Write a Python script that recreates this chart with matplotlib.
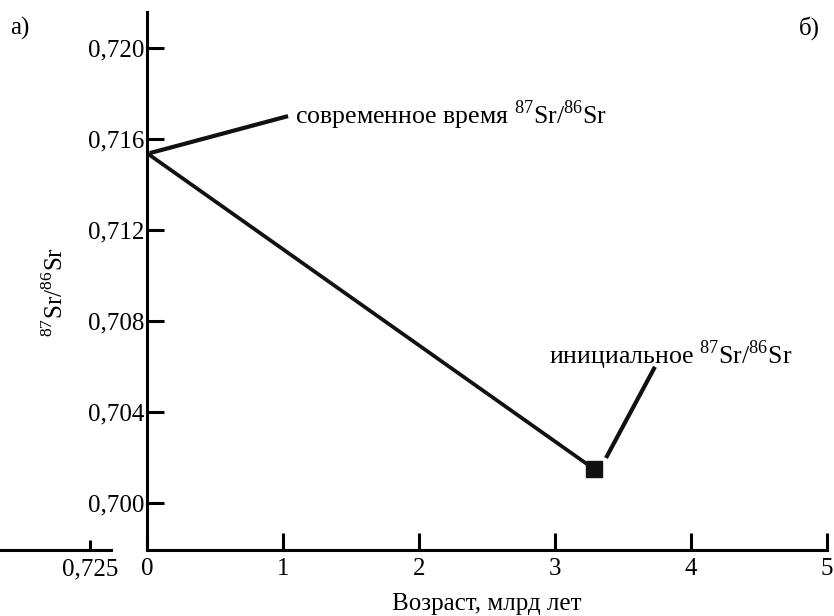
import matplotlib
matplotlib.use("Agg")
import matplotlib.pyplot as plt

plt.rcParams["font.family"] = ["Liberation Serif", "DejaVu Serif"]
plt.rcParams["mathtext.fontset"] = "custom"
plt.rcParams["mathtext.rm"] = "Liberation Serif"

# evolution line: present-day value -> initial value
age = [0.0, 3.29]
ratio = [0.71539, 0.70148]

# leader lines for the two notes
lead_now_x = [0.02, 1.037]
lead_now_y = [0.71539, 0.71702]
lead_init_x = [3.375, 3.735]
lead_init_y = [0.70198, 0.70599]

xticks = [0, 1, 2, 3, 4, 5]
yticks = [0.700, 0.704, 0.708, 0.712, 0.716, 0.720]
ytick_labels = ["0,700", "0,704", "0,708", "0,712", "0,716", "0,720"]

W, H = 834, 616
fig = plt.figure(figsize=(W / 100, H / 100), dpi=100)

LW = 2.2
FS = 18

ax = fig.add_axes([147 / W, (H - 550) / H, 680 / W, 538 / H])
ax.set_xlim(0, 5)
ax.set_ylim(0.69793, 0.7216)
for s in ["top", "right"]:
    ax.spines[s].set_visible(False)
for s in ["left", "bottom"]:
    ax.spines[s].set_linewidth(LW)
ax.set_xticks(xticks)
ax.set_xticklabels([str(t) for t in xticks])
ax.set_yticks(yticks)
ax.set_yticklabels(ytick_labels)
ax.tick_params(direction="in", length=12, width=LW, labelsize=FS)
ax.tick_params(axis="y", pad=2)
ax.tick_params(axis="x", pad=6)

ax.plot(age, ratio, color="#111111", lw=2.7, solid_capstyle="butt")
ax.plot(age[1], ratio[1], "s", color="#111111", ms=11)
ax.plot(lead_now_x, lead_now_y, color="#111111", lw=3, solid_capstyle="butt")
ax.plot(lead_init_x, lead_init_y, color="#111111", lw=3, solid_capstyle="butt")

ax.text(1.088, 0.71706, r"современное время $^{87}$Sr/$^{86}$Sr",
        fontsize=18.6, ha="left", va="center")
ax.text(2.956, 0.70652, r"инициальное $^{87}$Sr/$^{86}$Sr",
        fontsize=18.6, ha="left", va="center")

ax.set_xlabel("Возраст, млрд лет", fontsize=FS, labelpad=9)
fig.text(55 / W, 1 - 292 / H, r"$^{87}$Sr/$^{86}$Sr", fontsize=FS,
         rotation=90, ha="center", va="center")

# fragment of neighbouring panel axis at the far left
ax2 = fig.add_axes([0, (H - 550) / H, 111 / W, 0.001])
ax2.set_xlim(0.695, 0.732)
for s in ["top", "right", "left"]:
    ax2.spines[s].set_visible(False)
ax2.spines["bottom"].set_linewidth(LW)
ax2.set_yticks([])
ax2.set_xticks([0.725])
ax2.set_xticklabels(["0,725"])
ax2.tick_params(direction="in", length=7, width=LW, labelsize=FS, pad=6)

fig.text(10 / W, 1 - 28 / H, "а)", fontsize=FS, ha="left", va="center")
fig.text(820 / W, 1 - 28 / H, "б)", fontsize=FS, ha="right", va="center")

fig.savefig("out.png", dpi=100)
